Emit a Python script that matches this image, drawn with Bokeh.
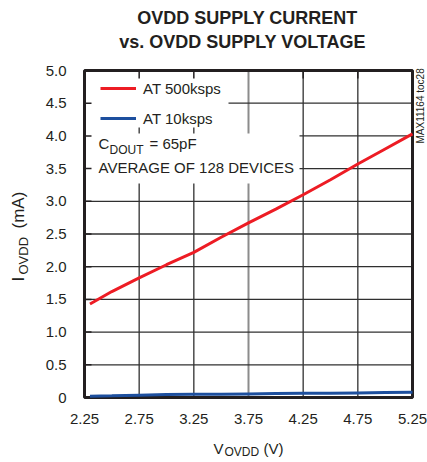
import math
from bokeh.plotting import figure
from bokeh.models import Legend, LegendItem, Range1d, ColumnDataSource
from bokeh.core.properties import value
from bokeh.embed import file_html
from bokeh.resources import INLINE

# ---- data ----
voltage = [2.30, 2.50, 2.75, 3.00, 3.25, 3.50, 3.75, 4.00, 4.25, 4.50, 4.75, 5.00, 5.25]
current_500ksps = [1.43, 1.62, 1.83, 2.03, 2.22, 2.45, 2.67, 2.88, 3.10, 3.33, 3.57, 3.80, 4.03]
current_10ksps = [0.02, 0.025, 0.035, 0.045, 0.05, 0.05, 0.055, 0.06, 0.065, 0.065, 0.07, 0.075, 0.08]
series_names = ["AT 500ksps", "AT 10ksps"]
x_ticks = [2.25, 2.75, 3.25, 3.75, 4.25, 4.75, 5.25]
x_tick_labels = ["2.25", "2.75", "3.25", "3.75", "4.25", "4.75", "5.25"]
y_ticks = [0, 0.5, 1.0, 1.5, 2.0, 2.5, 3.0, 3.5, 4.0, 4.5, 5.0]
y_tick_labels = ["0", "0.5", "1.0", "1.5", "2.0", "2.5", "3.0", "3.5", "4.0", "4.5", "5.0"]
dark_grid_x = [2.75, 3.25, 4.25, 4.75]
gray_grid_x = [3.75]
grid_y = [0.5, 1.0, 1.5, 2.0, 2.5, 3.0, 3.5, 4.0, 4.5]

# ---- layout (pixels on the canvas) ----
W, H = 427, 460
PLOT_L, PLOT_R, PLOT_T, PLOT_B = 84, 412, 70, 397
X0, X1 = x_ticks[0], x_ticks[-1]
Y0, Y1 = y_ticks[0], y_ticks[-1]
kx = (X1 - X0) / (PLOT_R - PLOT_L)
ky = (Y1 - Y0) / (PLOT_B - PLOT_T)
xs, xe = X0 - PLOT_L * kx, X0 + (W - PLOT_L) * kx
ye, ys = Y1 + PLOT_T * ky, Y1 - (H - PLOT_T) * ky


def px_x(px):
    return xs + px * kx


def px_y(py):
    return ye - py * ky


FONT = "Liberation Sans"
INK = "#231f20"
RED = "#ed1c24"
BLUE = "#1d4f9e"
GRID = "#303030"
GRID_GRAY = "#8c8c8c"

p = figure(width=W, height=H, output_backend="svg", toolbar_location=None,
           x_range=Range1d(xs, xe), y_range=Range1d(ys, ye),
           x_axis_type=None, y_axis_type=None,
           min_border=0, min_border_left=0, min_border_right=0,
           min_border_top=0, min_border_bottom=0)
p.outline_line_color = None
p.background_fill_color = "white"
p.border_fill_color = "white"

# grid lines
p.segment(x0=dark_grid_x, x1=dark_grid_x, y0=[Y0] * len(dark_grid_x), y1=[Y1] * len(dark_grid_x),
          line_color=GRID, line_width=1.3)
p.segment(x0=gray_grid_x, x1=gray_grid_x, y0=[Y0], y1=[Y1], line_color=GRID_GRAY, line_width=2)
p.segment(x0=[X0] * len(grid_y), x1=[X1] * len(grid_y), y0=grid_y, y1=grid_y,
          line_color=GRID, line_width=1.3)

# white boxes behind the legend and the note
LEGEND_BOX = (84, 228, 70, 127)
NOTE_BOX = (84, 299, 133, 183)
for (l, r, t, b) in (LEGEND_BOX, NOTE_BOX):
    p.quad(left=px_x(l), right=px_x(r), top=px_y(t), bottom=px_y(b),
           fill_color="white", line_color=None)

# inner tick marks
p.ray(x=[X0] * len(grid_y), y=grid_y, length=7, length_units="screen", angle=0,
      line_color=INK, line_width=1.5)
p.ray(x=dark_grid_x, y=[Y1] * len(dark_grid_x), length=8, length_units="screen",
      angle=-math.pi / 2, line_color=INK, line_width=1.5)

# plot frame
p.quad(left=X0, right=X1, bottom=Y0, top=Y1, fill_color=None, line_color=INK, line_width=3)

# tick labels
p.text(x=x_ticks, y=[Y0] * len(x_ticks), text=x_tick_labels, y_offset=21,
       text_align="center", text_baseline="middle", text_font=value(FONT),
       text_font_size=value("15px"), text_color=INK)
p.text(x=[X0] * len(y_ticks), y=y_ticks, text=y_tick_labels, x_offset=-18,
       text_align="right", text_baseline="middle", text_font=value(FONT),
       text_font_size=value("15px"), text_color=INK)

# data
src = ColumnDataSource(dict(v=voltage, a=current_500ksps, b=current_10ksps))
r1 = p.line("v", "a", source=src, line_color=RED, line_width=3)
r2 = p.line("v", "b", source=src, line_color=BLUE, line_width=3)

legend = Legend(items=[LegendItem(label=series_names[0], renderers=[r1]),
                       LegendItem(label=series_names[1], renderers=[r2])],
                location=(100, H - 128), margin=0, padding=0, spacing=10,
                glyph_width=36, glyph_height=20, label_height=20, label_standoff=7,
                border_line_color=None, background_fill_alpha=0,
                label_text_font=FONT, label_text_font_size="15px",
                label_text_color=INK)
p.add_layout(legend)


def txt(text, px, py, size="15px", angle=0, align="left", style="normal"):
    # px, py: canvas pixels from the top-left corner (py = middle of the capitals)
    p.text(x=[px_x(px)], y=[px_y(py)], text=[text], angle=angle,
           text_align=align, text_baseline="middle", text_font=value(FONT),
           text_font_size=value(size), text_color=INK, text_font_style=style)


# title
txt("OVDD SUPPLY CURRENT", 247, 17.5, size="18px", align="center", style="bold")
txt("vs. OVDD SUPPLY VOLTAGE", 242, 41.5, size="18px", align="center", style="bold")

# note text
txt("C", 98, 143)
txt("DOUT", 109, 149, size="12px")
txt("= 65pF", 149, 143)
txt("AVERAGE OF 128 DEVICES", 98, 167)

# x axis title
txt("V", 213, 447.5)
txt("OVDD", 224, 451, size="12px")
txt("(V)", 263, 447.5)

# y axis title (rotated, reading upwards)
txt("I", 18, 281, size="17px", angle=math.pi / 2)
txt("OVDD", 22.5, 274, size="13px", angle=math.pi / 2)
txt("(mA)", 18, 228, size="17px", angle=math.pi / 2)

# side tag
txt("MAX11164 toc28", 420, 143, size="10px", angle=math.pi / 2)

open("out.html", "w").write(file_html(p, INLINE))
